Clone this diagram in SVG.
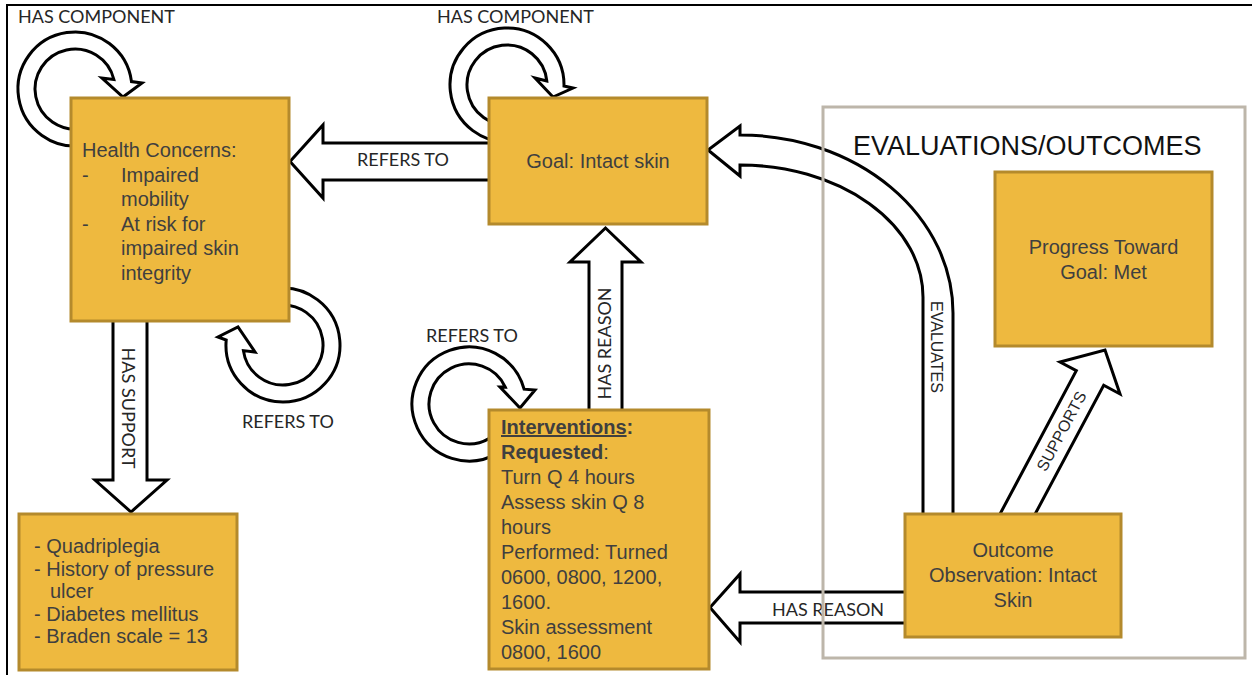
<svg xmlns="http://www.w3.org/2000/svg" width="1252" height="675" viewBox="0 0 1252 675">
<style>
.box{fill:#EEB93F;stroke:#B48A2C;stroke-width:3}
.arrow{fill:#FFFFFF;stroke:#000000;stroke-width:3;stroke-linejoin:miter}
.lbl{font-family:Lato,"Open Sans",sans-serif;font-size:18px;fill:#262626}
.alb{font-family:"Liberation Sans",Arial,sans-serif;font-size:16px;fill:#262626}
.txt{font-family:"Liberation Sans",Arial,sans-serif;font-size:20px;fill:#3f3f3f}
.title{font-family:"Liberation Sans",Arial,sans-serif;font-size:27px;fill:#111111}
</style>
<rect x="0" y="0" width="1252" height="675" fill="#FFFFFF"/>
<path d="M7,675 V5 H1252" fill="none" stroke="#000000" stroke-width="2"/>
<g id="connectors">
  <!-- self loops -->
  <path class="arrow" d="M84.9,145.1 A57,57 0 1 1 131.5,81.6 L142,83 L123,97 L102,78 L113.9,79.5 A40,40 0 1 0 81.9,128.4 Z"/>
  <path class="arrow" d="M516.9,141.1 A57,57 0 1 1 564,86 L573,88 L553,97 L535,78 L546.8,81 A40,40 0 1 0 513.9,124.4 Z"/>
  <path class="arrow" d="M273.1,288.9 A57,57 0 1 1 226.2,340 L218,337 L238,327 L255,352 L243.4,350.6 A40,40 0 1 0 276.1,305.6 Z"/>
  <path class="arrow" d="M497.5,453.4 A57,57 0 1 1 524.1,389.2 L535,390 L520,408 L500,387 L505.3,387.1 A40,40 0 1 0 489,438.6 Z"/>
  <!-- Goal -> Health Concerns -->
  <path class="arrow" d="M490,143 H323 V125 L290,161.5 L323,198 V180 H490 Z"/>
  <!-- Health Concerns -> Support -->
  <path class="arrow" d="M113,319 V480 H95 L131,512 L167,480 H147 V319 Z"/>
  <!-- Interventions -> Goal -->
  <path class="arrow" d="M589,411 V262 H570 L605.5,228 L641,262 H622 V411 Z"/>
  <!-- Outcome -> Goal (curved) -->
  <path class="arrow" d="M923,515 V297 A183,132 0 0 0 740,165 V176 L708,150 L740,126 V135 A213,178 0 0 1 953,313 V515 Z"/>
  <!-- Outcome -> Progress -->
  <path class="arrow" d="M999.5,515 L1076.3,370.7 L1060,362 L1105,350 L1120,394 L1103.7,385.3 L1034.6,515 Z"/>
  <!-- Outcome -> Interventions -->
  <path class="arrow" d="M906,592 H740 V574 L710,607.5 L740,642 V623 H906 Z"/>
  <!-- labels -->
  <text class="lbl" x="18" y="23">HAS COMPONENT</text>
  <text class="lbl" x="437" y="23">HAS COMPONENT</text>
  <text class="lbl" x="357" y="166">REFERS TO</text>
  <text class="lbl" x="242" y="428">REFERS TO</text>
  <text class="lbl" x="426" y="342">REFERS TO</text>
  <text class="lbl" x="772" y="616">HAS REASON</text>
  <text class="lbl" transform="translate(604,343.5) rotate(-90)" x="0" y="6.5" text-anchor="middle">HAS REASON</text>
  <text class="lbl" transform="translate(128,408) rotate(90)" x="0" y="6.5" text-anchor="middle">HAS SUPPORT</text>
  <text class="alb" transform="translate(937,347) rotate(90)" x="0" y="6" text-anchor="middle">EVALUATES</text>
  <text class="alb" transform="translate(1061,431) rotate(-62)" x="0" y="6" text-anchor="middle">SUPPORTS</text>
</g>
<g id="evaluations-outcomes">
  <rect x="823" y="107" width="422" height="551" fill="none" stroke="#BDB6AA" stroke-width="3"/>
  <text class="title" x="853" y="155">EVALUATIONS/OUTCOMES</text>
</g>
<g id="node-health-concerns">
  <rect class="box" x="71" y="98" width="218" height="223"/>
  <text class="txt" x="82" y="157">Health Concerns:</text>
  <text class="txt" x="82" y="181.5">-</text>
  <text class="txt" x="121" y="181.5">Impaired</text>
  <text class="txt" x="121" y="206">mobility</text>
  <text class="txt" x="82" y="230.5">-</text>
  <text class="txt" x="121" y="230.5">At risk for</text>
  <text class="txt" x="121" y="255">impaired skin</text>
  <text class="txt" x="121" y="279.5">integrity</text>
</g>
<g id="node-goal">
  <rect class="box" x="489" y="98" width="218" height="126"/>
  <text class="txt" x="598" y="168" text-anchor="middle">Goal: Intact skin</text>
</g>
<g id="node-support">
  <rect class="box" x="19" y="514" width="218" height="156"/>
  <text class="txt" x="34" y="553">- Quadriplegia</text>
  <text class="txt" x="34" y="575.5">- History of pressure</text>
  <text class="txt" x="50" y="598">ulcer</text>
  <text class="txt" x="34" y="620.5">- Diabetes mellitus</text>
  <text class="txt" x="34" y="643">- Braden scale = 13</text>
</g>
<g id="node-interventions">
  <rect class="box" x="489" y="410" width="220" height="259"/>
  <text class="txt" x="501" y="434"><tspan font-weight="bold" text-decoration="underline">Interventions</tspan><tspan font-weight="bold">:</tspan></text>
  <text class="txt" x="501" y="459"><tspan font-weight="bold">Requested</tspan>:</text>
  <text class="txt" x="501" y="484">Turn Q 4 hours</text>
  <text class="txt" x="501" y="509">Assess skin Q 8</text>
  <text class="txt" x="501" y="534">hours</text>
  <text class="txt" x="501" y="559">Performed: Turned</text>
  <text class="txt" x="501" y="584">0600, 0800, 1200,</text>
  <text class="txt" x="501" y="609">1600.</text>
  <text class="txt" x="501" y="634">Skin assessment</text>
  <text class="txt" x="501" y="659">0800, 1600</text>
</g>
<g id="node-progress">
  <rect class="box" x="995" y="172" width="217" height="174"/>
  <text class="txt" x="1103.5" y="254" text-anchor="middle">Progress Toward</text>
  <text class="txt" x="1103.5" y="279" text-anchor="middle">Goal: Met</text>
</g>
<g id="node-outcome">
  <rect class="box" x="905" y="514" width="216" height="123"/>
  <text class="txt" x="1013" y="557" text-anchor="middle">Outcome</text>
  <text class="txt" x="1013" y="582" text-anchor="middle">Observation: Intact</text>
  <text class="txt" x="1013" y="607" text-anchor="middle">Skin</text>
</g>
</svg>
